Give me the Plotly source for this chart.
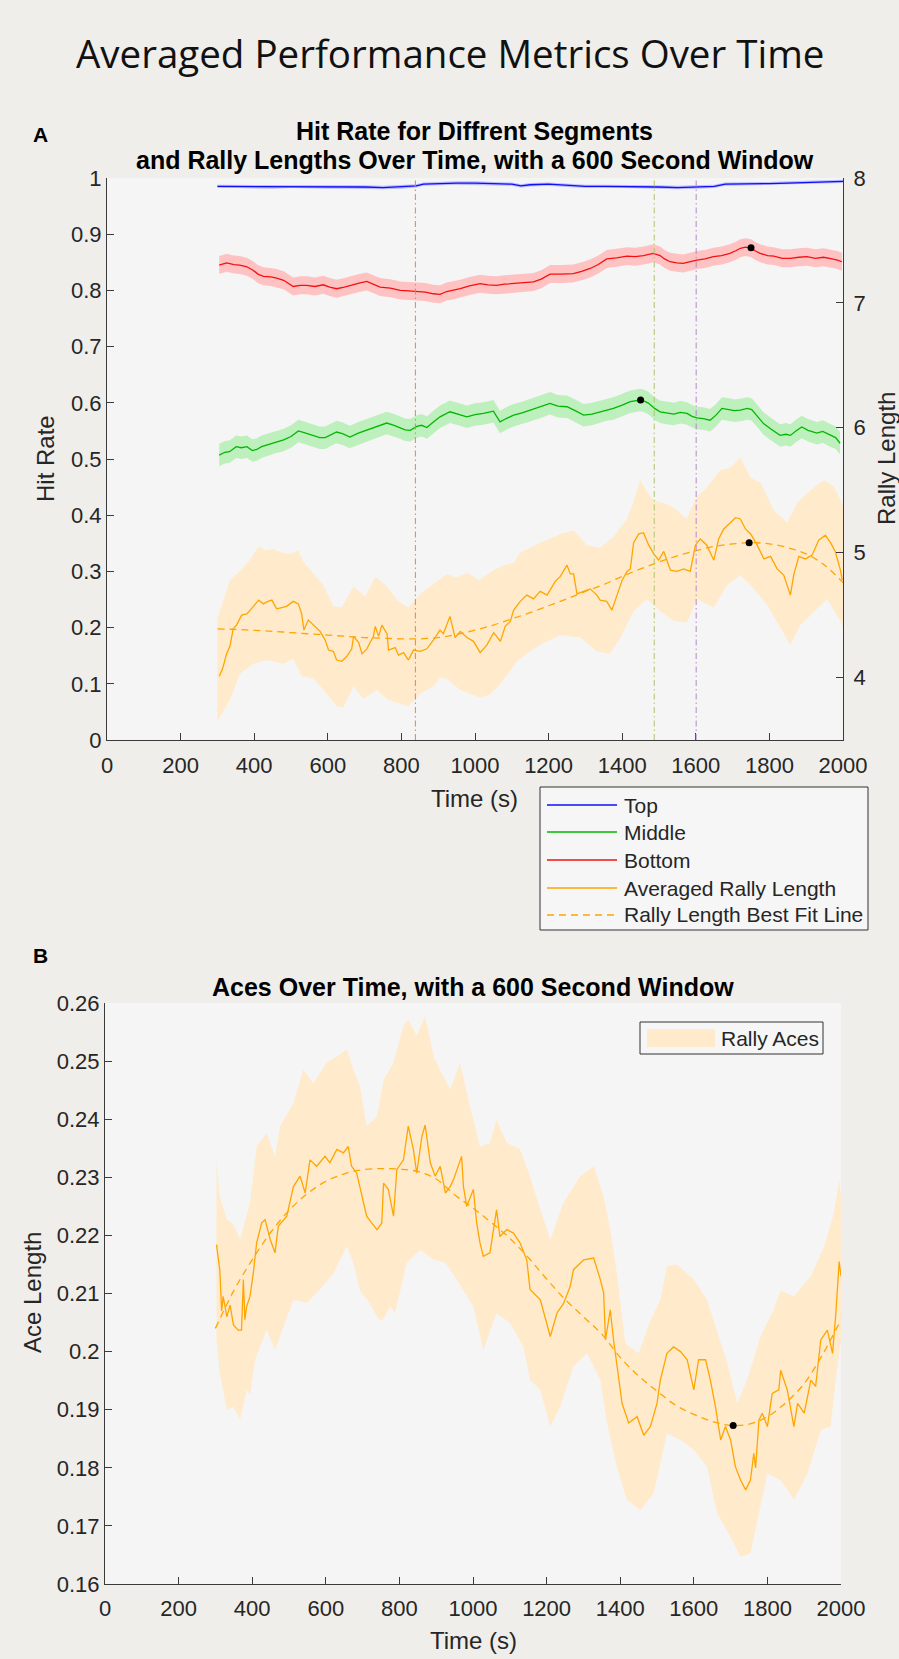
import plotly.graph_objects as go

# ---------------- data ----------------
TIME_TICKS = [0, 200, 400, 600, 800, 1000, 1200, 1400, 1600, 1800, 2000]
HIT_TICKS = [0, 0.1, 0.2, 0.3, 0.4, 0.5, 0.6, 0.7, 0.8, 0.9, 1]
HIT_TICK_TEXT = ["0", "0.1", "0.2", "0.3", "0.4", "0.5", "0.6", "0.7", "0.8", "0.9", "1"]
RALLY_TICKS = [4, 5, 6, 7, 8]
ACE_TICKS = [0.16, 0.17, 0.18, 0.19, 0.20, 0.21, 0.22, 0.23, 0.24, 0.25, 0.26]
ACE_TICK_TEXT = ["0.16", "0.17", "0.18", "0.19", "0.2", "0.21", "0.22", "0.23", "0.24", "0.25", "0.26"]

# Top segment hit rate (time s, value)
TOP = [(300, .985), (350, .985), (400, .985), (450, .984), (500, .985), (550, .985), (600, .984),
       (650, .984), (700, .984), (750, .983), (800, .984), (840, .986), (860, .989), (900, .990),
       (950, .991), (1000, .991), (1050, .990), (1100, .989), (1125, .986), (1150, .988),
       (1200, .989), (1250, .987), (1300, .985), (1350, .985), (1400, .985), (1450, .985),
       (1500, .984), (1550, .983), (1600, .984), (1650, .985), (1680, .989), (1700, .989),
       (1750, .989), (1800, .990), (1850, .991), (1900, .992), (1950, .993), (2000, .994)]
TOP_CI = 0.003

# Bottom segment hit rate
BOTTOM = [(305, .845), (325, .849), (345, .846), (361, .845), (380, .842), (397, .836), (410, .829),
          (425, .825), (445, .824), (461, .822), (480, .818), (506, .807), (525, .809), (543, .809),
          (565, .807), (588, .810), (605, .806), (624, .803), (645, .806), (660, .809), (685, .813),
          (706, .816), (725, .811), (742, .806), (770, .804), (797, .800), (820, .799), (842, .798),
          (865, .797), (887, .794), (905, .793), (923, .798), (940, .800), (960, .803), (985, .808),
          (1014, .812), (1035, .810), (1059, .809), (1080, .811), (1105, .812), (1130, .813),
          (1159, .815), (1180, .820), (1204, .829), (1235, .829), (1267, .830), (1290, .834),
          (1313, .839), (1335, .846), (1358, .856), (1385, .858), (1413, .861), (1435, .860),
          (1458, .862), (1484, .866), (1503, .862), (1515, .856), (1530, .851), (1548, .849),
          (1566, .848), (1585, .851), (1603, .854), (1625, .856), (1648, .860), (1670, .862),
          (1693, .866), (1710, .871), (1721, .875), (1735, .877), (1751, .875), (1762, .870),
          (1775, .866), (1795, .862), (1812, .861), (1835, .857), (1857, .857), (1880, .859),
          (1902, .860), (1925, .857), (1947, .859), (1970, .856), (1985, .854), (1997, .851)]
BOTTOM_CI = 0.016

# Middle segment hit rate
MIDDLE = [(305, .507), (320, .512), (333, .513), (351, .522), (365, .520), (380, .522), (395, .515),
          (407, .517), (420, .522), (434, .525), (455, .530), (480, .534), (500, .540), (520, .550),
          (540, .546), (561, .541), (578, .538), (593, .538), (610, .544), (624, .548), (640, .545),
          (660, .539), (683, .546), (706, .551), (730, .557), (760, .564), (780, .560), (797, .556),
          (810, .552), (824, .551), (842, .558), (855, .560), (869, .556), (887, .566), (905, .575),
          (932, .584), (955, .580), (978, .575), (1000, .579), (1023, .581), (1050, .585),
          (1068, .566), (1085, .572), (1105, .578), (1128, .582), (1150, .587), (1175, .592),
          (1204, .599), (1225, .594), (1250, .593), (1272, .586), (1295, .578), (1318, .580),
          (1340, .584), (1358, .588), (1376, .590), (1400, .596), (1422, .602), (1449, .605),
          (1460, .603), (1472, .599), (1488, .590), (1503, .584), (1520, .582), (1540, .580),
          (1558, .583), (1576, .581), (1590, .576), (1603, .573), (1620, .572), (1639, .569),
          (1655, .578), (1671, .590), (1690, .588), (1705, .586), (1721, .587), (1740, .590),
          (1752, .588), (1768, .576), (1784, .563), (1805, .553), (1829, .542), (1845, .544),
          (1857, .542), (1872, .550), (1888, .557), (1905, .551), (1929, .546), (1945, .549),
          (1965, .542), (1980, .538), (1992, .528)]
MIDDLE_CI = 0.02

# Averaged rally length (right axis)
RALLY = [(305, 4.01), (314, 4.07), (325, 4.19), (334, 4.25), (343, 4.39), (352, 4.42), (366, 4.50),
         (380, 4.51), (398, 4.57), (412, 4.62), (425, 4.59), (437, 4.61), (448, 4.62), (461, 4.55),
         (475, 4.56), (488, 4.57), (506, 4.61), (520, 4.59), (529, 4.51), (535, 4.38), (547, 4.46),
         (561, 4.42), (579, 4.37), (593, 4.30), (602, 4.22), (615, 4.21), (624, 4.14), (638, 4.13),
         (652, 4.17), (665, 4.23), (670, 4.33), (684, 4.28), (693, 4.19), (706, 4.23), (724, 4.33),
         (729, 4.41), (738, 4.33), (747, 4.42), (761, 4.35), (765, 4.22), (783, 4.24), (792, 4.18),
         (806, 4.20), (819, 4.14), (833, 4.22), (851, 4.21), (869, 4.23), (887, 4.30), (905, 4.38),
         (914, 4.35), (932, 4.49), (946, 4.32), (960, 4.37), (978, 4.32), (996, 4.29), (1014, 4.20),
         (1032, 4.26), (1051, 4.36), (1069, 4.29), (1082, 4.41), (1096, 4.45), (1105, 4.54),
         (1123, 4.61), (1141, 4.66), (1159, 4.63), (1177, 4.69), (1196, 4.66), (1218, 4.77),
         (1232, 4.81), (1250, 4.90), (1259, 4.83), (1268, 4.83), (1277, 4.67), (1295, 4.69),
         (1313, 4.71), (1331, 4.66), (1340, 4.62), (1358, 4.61), (1372, 4.54), (1386, 4.66),
         (1400, 4.78), (1413, 4.85), (1422, 4.87), (1431, 5.08), (1445, 5.15), (1458, 5.16),
         (1472, 5.06), (1486, 4.99), (1499, 4.94), (1513, 5.01), (1531, 4.86), (1549, 4.85),
         (1567, 4.87), (1585, 4.85), (1599, 5.06), (1612, 5.11), (1630, 5.06), (1649, 4.94),
         (1662, 5.11), (1676, 5.19), (1694, 5.24), (1708, 5.28), (1721, 5.27), (1735, 5.19),
         (1749, 5.15), (1767, 5.06), (1785, 4.95), (1803, 4.97), (1821, 4.87), (1839, 4.82),
         (1857, 4.66), (1866, 4.82), (1880, 4.97), (1898, 4.95), (1916, 4.98), (1934, 5.10),
         (1952, 5.14), (1966, 5.08), (1979, 5.01), (1993, 4.86), (1998, 4.78)]
RALLY_UPPER = [(300, 4.47), (334, 4.78), (361, 4.85), (390, 4.95), (412, 5.05), (430, 5.02),
               (452, 5.03), (475, 5.00), (497, 4.99), (520, 5.02), (533, 4.93), (561, 4.83),
               (588, 4.74), (615, 4.57), (638, 4.56), (670, 4.73), (702, 4.65), (729, 4.81),
               (761, 4.73), (788, 4.62), (819, 4.56), (851, 4.67), (887, 4.75), (923, 4.83),
               (950, 4.80), (980, 4.84), (1010, 4.78), (1050, 4.86), (1080, 4.90), (1105, 4.92),
               (1123, 5.00), (1150, 5.04), (1177, 5.08), (1210, 5.12), (1232, 5.15), (1268, 5.18),
               (1304, 5.06), (1340, 5.04), (1377, 5.13), (1413, 5.27), (1430, 5.40), (1449, 5.58),
               (1465, 5.50), (1485, 5.42), (1521, 5.39), (1540, 5.36), (1575, 5.27), (1603, 5.45),
               (1630, 5.52), (1666, 5.66), (1694, 5.68), (1721, 5.76), (1749, 5.60), (1776, 5.56),
               (1812, 5.34), (1848, 5.24), (1876, 5.40), (1912, 5.50), (1948, 5.58), (1975, 5.53),
               (1993, 5.42), (2000, 5.38)]
RALLY_LOWER = [(300, 3.65), (334, 3.82), (361, 4.03), (398, 4.11), (434, 4.14), (479, 4.11),
               (506, 4.15), (529, 4.01), (561, 3.99), (597, 3.87), (624, 3.77), (642, 3.76),
               (670, 3.93), (697, 3.83), (733, 3.90), (765, 3.82), (797, 3.79), (819, 3.77),
               (851, 3.87), (887, 3.93), (905, 4.00), (923, 3.99), (960, 3.90), (1014, 3.84),
               (1040, 3.86), (1069, 3.95), (1114, 4.13), (1145, 4.20), (1177, 4.26), (1232, 4.34),
               (1286, 4.32), (1331, 4.21), (1367, 4.19), (1395, 4.32), (1431, 4.53), (1467, 4.63),
               (1504, 4.53), (1540, 4.45), (1576, 4.44), (1603, 4.63), (1649, 4.56), (1685, 4.74),
               (1721, 4.82), (1758, 4.71), (1794, 4.58), (1830, 4.40), (1857, 4.26), (1884, 4.42),
               (1921, 4.53), (1957, 4.63), (1993, 4.45), (2000, 4.40)]
RALLY_FIT = [(300, 4.39), (350, 4.385), (400, 4.378), (450, 4.37), (500, 4.36), (550, 4.35),
             (600, 4.34), (650, 4.33), (700, 4.32), (750, 4.315), (800, 4.31), (850, 4.31),
             (900, 4.32), (950, 4.345), (1000, 4.38), (1050, 4.42), (1100, 4.47), (1150, 4.52),
             (1200, 4.575), (1250, 4.63), (1300, 4.69), (1350, 4.745), (1400, 4.81), (1450, 4.87),
             (1500, 4.925), (1550, 4.975), (1600, 5.015), (1650, 5.05), (1700, 5.07), (1750, 5.08),
             (1800, 5.07), (1850, 5.04), (1900, 4.99), (1950, 4.90), (2000, 4.76)]

# Highlighted points
MARKED_HIT = [(1750, 0.876), (1450, 0.605)]
MARKED_RALLY = [(1745, 5.08)]
EVENT_TIMES = [838, 1487, 1601]

# Aces (panel B)
ACES = [(303, .2184), (312, .2140), (317, .2070), (321, .2095), (331, .2060), (340, .2080),
        (349, .2046), (362, .2037), (371, .2037), (376, .2124), (380, .2055), (385, .2078),
        (394, .2095), (403, .2135), (412, .2187), (426, .2222), (435, .2227), (449, .2193),
        (462, .2170), (471, .2216), (494, .2233), (512, .2284), (530, .2302), (544, .2273),
        (557, .2330), (575, .2319), (598, .2336), (611, .2325), (630, .2348), (648, .2342),
        (661, .2353), (670, .2319), (684, .2307), (698, .2267), (711, .2233), (725, .2221),
        (739, .2210), (752, .2221), (757, .2290), (770, .2279), (784, .2233), (793, .2313),
        (811, .2330), (824, .2388), (838, .2348), (847, .2307), (861, .2370), (870, .2390),
        (884, .2325), (897, .2302), (911, .2319), (925, .2273), (938, .2284), (947, .2296),
        (969, .2336), (974, .2284), (983, .2250), (1001, .2279), (1010, .2221), (1019, .2187),
        (1028, .2164), (1046, .2170), (1064, .2244), (1073, .2198), (1092, .2210), (1110, .2204),
        (1128, .2187), (1146, .2158), (1155, .2107), (1183, .2089), (1210, .2026), (1228, .2066),
        (1246, .2083), (1264, .2112), (1273, .2141), (1301, .2158), (1328, .2161), (1346, .2124),
        (1355, .2101), (1360, .2020), (1373, .2072), (1382, .2020), (1391, .1980), (1405, .1911),
        (1423, .1877), (1446, .1888), (1464, .1856), (1482, .1871), (1500, .1911), (1509, .1951),
        (1527, .1997), (1545, .2008), (1564, .2000), (1582, .1986), (1600, .1934), (1613, .1986),
        (1632, .1986), (1645, .1951), (1659, .1905), (1673, .1848), (1686, .1871), (1700, .1848),
        (1713, .1802), (1727, .1779), (1741, .1762), (1754, .1779), (1763, .1825), (1768, .1800),
        (1777, .1882), (1786, .1894), (1800, .1871), (1813, .1928), (1831, .1934), (1836, .1968),
        (1854, .1934), (1872, .1871), (1882, .1911), (1900, .1894), (1918, .1951), (1931, .1940),
        (1945, .2020), (1963, .2037), (1977, .1997), (1986, .2066), (1995, .2155), (2000, .2130)]
ACES_UPPER = [(303, .2330), (312, .2267), (331, .2227), (349, .2220), (367, .2193), (394, .2256),
              (412, .2353), (439, .2376), (462, .2336), (476, .2388), (512, .2428), (539, .2485),
              (566, .2462), (602, .2497), (630, .2508), (657, .2520), (675, .2485), (693, .2457),
              (711, .2388), (739, .2405), (757, .2468), (784, .2497), (811, .2560), (824, .2571),
              (847, .2543), (870, .2577), (893, .2508), (910, .2485), (938, .2451), (965, .2497),
              (992, .2422), (1019, .2353), (1046, .2359), (1064, .2399), (1092, .2359),
              (1128, .2348), (1155, .2302), (1183, .2244), (1210, .2193), (1246, .2256),
              (1291, .2302), (1328, .2319), (1355, .2267), (1373, .2210), (1391, .2135),
              (1414, .2014), (1450, .1997), (1480, .2050), (1509, .2089), (1527, .2147),
              (1554, .2150), (1600, .2124), (1636, .2089), (1654, .2054), (1691, .1980),
              (1718, .1911), (1745, .1951), (1781, .2026), (1817, .2072), (1836, .2105),
              (1872, .2095), (1918, .2130), (1954, .2181), (1981, .2239), (1995, .2296), (2000, .2267)]
ACES_LOWER = [(303, .2020), (312, .1963), (331, .1900), (349, .1905), (367, .1883), (385, .1934),
              (394, .1925), (408, .1986), (439, .2037), (462, .2003), (485, .2043), (512, .2089),
              (548, .2084), (584, .2107), (621, .2135), (657, .2181), (675, .2153), (693, .2105),
              (720, .2083), (739, .2060), (752, .2052), (775, .2078), (788, .2066), (802, .2106),
              (820, .2153), (856, .2175), (893, .2158), (925, .2153), (960, .2120), (1001, .2077),
              (1028, .2003), (1064, .2066), (1101, .2049), (1137, .2008), (1155, .1951),
              (1183, .1934), (1210, .1871), (1237, .1905), (1273, .1974), (1310, .1997),
              (1346, .1951), (1364, .1877), (1391, .1802), (1418, .1745), (1455, .1727),
              (1491, .1756), (1527, .1859), (1564, .1848), (1600, .1831), (1636, .1802),
              (1663, .1722), (1700, .1681), (1727, .1647), (1754, .1653), (1772, .1710),
              (1800, .1790), (1836, .1779), (1872, .1745), (1909, .1790), (1945, .1865),
              (1972, .1871), (1990, .1974), (2000, .2020)]
ACES_FIT = [(300, .2040), (350, .2105), (400, .2158), (450, .2205), (500, .2243), (550, .2272),
            (600, .2293), (650, .2306), (700, .2313), (750, .2315), (800, .2314), (850, .2310),
            (900, .2297), (950, .2270), (1000, .2247), (1050, .2222), (1100, .2195), (1150, .2162),
            (1200, .2125), (1250, .2090), (1300, .2060), (1350, .2030), (1400, .1990), (1450, .1958),
            (1500, .1932), (1550, .1908), (1600, .1892), (1650, .1880), (1700, .1873), (1750, .1875),
            (1800, .1888), (1850, .1912), (1900, .1945), (1950, .1995), (2000, .2055)]
MARKED_ACE = [(1707, 0.1873)]

LEGEND_A = ["Top", "Middle", "Bottom", "Averaged Rally Length", "Rally Length Best Fit Line"]
LEGEND_B = ["Rally Aces"]

# ---------------- helpers ----------------
W, H = 899, 1659


def px(x):
    return x / W


def py(y):
    return 1 - y / H


def xs(pts):
    return [p[0] for p in pts]


def ys(pts):
    return [p[1] for p in pts]


def band_poly(upper, lower):
    return xs(upper) + xs(lower)[::-1], ys(upper) + ys(lower)[::-1]


BLUE, GREEN, RED, ORANGE = "#1010f5", "#00b800", "#f51010", "#ffa500"
FAMILY = "Liberation Sans, Arial, sans-serif"
TICK_FONT = dict(family=FAMILY, size=22, color="#262626")
LEG_FONT = dict(family=FAMILY, size=21, color="#262626")
AXCOL = "#3a3a3a"

fig = go.Figure()

# ---------- Panel A bands ----------
for pts, ci, col in [(TOP, TOP_CI, "#babaff"), (BOTTOM, BOTTOM_CI, "#ffc2c2"), (MIDDLE, MIDDLE_CI, "#bdf0bd")]:
    up = [(t, v + ci) for t, v in pts]
    lo = [(t, v - ci) for t, v in pts]
    bx, by = band_poly(up, lo)
    fig.add_trace(go.Scatter(x=bx, y=by, fill="toself", fillcolor=col, line=dict(width=0),
                             mode="lines", hoverinfo="skip", showlegend=False, xaxis="x", yaxis="y"))

bx, by = band_poly(RALLY_UPPER, RALLY_LOWER)
fig.add_trace(go.Scatter(x=bx, y=by, fill="toself", fillcolor="#ffebcc", line=dict(width=0),
                         mode="lines", hoverinfo="skip", showlegend=False, xaxis="x", yaxis="y2"))

# ---------- Panel A lines ----------
for pts, col, name in [(TOP, BLUE, "Top"), (MIDDLE, GREEN, "Middle"), (BOTTOM, RED, "Bottom")]:
    fig.add_trace(go.Scatter(x=xs(pts), y=ys(pts), mode="lines", line=dict(color=col, width=1.3),
                             name=name, showlegend=False, xaxis="x", yaxis="y"))
fig.add_trace(go.Scatter(x=xs(RALLY), y=ys(RALLY), mode="lines", line=dict(color=ORANGE, width=1.3),
                         name="Averaged Rally Length", showlegend=False, xaxis="x", yaxis="y2"))
fig.add_trace(go.Scatter(x=xs(RALLY_FIT), y=ys(RALLY_FIT), mode="lines", line_shape="spline",
                         line=dict(color=ORANGE, width=1.3, dash="7px,5px"),
                         name="Rally Length Best Fit Line", showlegend=False, xaxis="x", yaxis="y2"))
fig.add_trace(go.Scatter(x=xs(MARKED_HIT), y=ys(MARKED_HIT), mode="markers",
                         marker=dict(color="black", size=7), showlegend=False, xaxis="x", yaxis="y"))
fig.add_trace(go.Scatter(x=xs(MARKED_RALLY), y=ys(MARKED_RALLY), mode="markers",
                         marker=dict(color="black", size=7), showlegend=False, xaxis="x", yaxis="y2"))

# ---------- Panel B ----------
bx, by = band_poly(ACES_UPPER, ACES_LOWER)
fig.add_trace(go.Scatter(x=bx, y=by, fill="toself", fillcolor="#ffebcc", line=dict(width=0),
                         mode="lines", hoverinfo="skip", showlegend=False, xaxis="x2", yaxis="y3"))
fig.add_trace(go.Scatter(x=xs(ACES), y=ys(ACES), mode="lines", line=dict(color=ORANGE, width=1.3),
                         showlegend=False, xaxis="x2", yaxis="y3"))
fig.add_trace(go.Scatter(x=xs(ACES_FIT), y=ys(ACES_FIT), mode="lines", line_shape="spline",
                         line=dict(color=ORANGE, width=1.3, dash="7px,5px"),
                         showlegend=False, xaxis="x2", yaxis="y3"))
fig.add_trace(go.Scatter(x=xs(MARKED_ACE), y=ys(MARKED_ACE), mode="markers",
                         marker=dict(color="black", size=7), showlegend=False, xaxis="x2", yaxis="y3"))

# ---------- shapes ----------
shapes = []
for t, col in zip(EVENT_TIMES, ["#f7794c", "#aec46c", "#b886cc"]):
    shapes.append(dict(type="line", xref="x", yref="y domain", x0=t, x1=t, y0=0, y1=1,
                       line=dict(color=col, width=1, dash="6px,3px,1.5px,3px"), layer="above"))

# legend A (manual, MATLAB style)
shapes.append(dict(type="rect", xref="paper", yref="paper", x0=px(540), x1=px(868), y0=py(930), y1=py(787),
                   fillcolor="#f6f6f6", line=dict(color="#333333", width=1)))
leg_cols = [BLUE, GREEN, RED, ORANGE, ORANGE]
leg_dash = ["solid", "solid", "solid", "solid", "7px,5px"]
leg_y = [805, 832, 860, 888, 915]
annotations = []
for lab, col, d, yy in zip(LEGEND_A, leg_cols, leg_dash, leg_y):
    shapes.append(dict(type="line", xref="paper", yref="paper", x0=px(547), x1=px(617), y0=py(yy), y1=py(yy),
                       line=dict(color=col, width=1.3, dash=d)))
    annotations.append(dict(text=lab, xref="paper", yref="paper", x=px(622), y=py(yy), xanchor="left",
                            yanchor="middle", showarrow=False, font=LEG_FONT))

# legend B
shapes.append(dict(type="rect", xref="paper", yref="paper", x0=px(640), x1=px(823), y0=py(1054), y1=py(1022),
                   fillcolor="#f6f6f6", line=dict(color="#333333", width=1)))
shapes.append(dict(type="rect", xref="paper", yref="paper", x0=px(647), x1=px(715), y0=py(1047), y1=py(1029),
                   fillcolor="#ffebcc", line=dict(width=0)))
annotations.append(dict(text=LEGEND_B[0], xref="paper", yref="paper", x=px(719), y=py(1038), xanchor="left",
                        yanchor="middle", showarrow=False, font=LEG_FONT))

# ---------- text ----------
def ann(text, x, y, size=24, bold=False, angle=0, family=FAMILY, color="#1a1a1a"):
    annotations.append(dict(text=f"<b>{text}</b>" if bold else text, xref="paper", yref="paper",
                            x=px(x), y=py(y), xanchor="center", yanchor="middle", showarrow=False,
                            textangle=angle, font=dict(family=family, size=size, color=color)))


ann("Averaged Performance Metrics Over Time", 450, 53, size=38.5, family="Open Sans, sans-serif", color="#111111")
ann("A", 40, 134, size=21, bold=True, color="#000000")
ann("Hit Rate for Diffrent Segments", 475, 131, size=25, bold=True, color="#000000")
ann("and Rally Lengths Over Time, with a 600 Second Window", 475, 160, size=25, bold=True, color="#000000")
ann("Hit Rate", 45, 459, angle=-90, color="#262626")
ann("Rally Length", 886, 459, angle=-90, color="#262626")
ann("Time (s)", 475, 798, color="#262626")
ann("B", 40, 955, size=21, bold=True, color="#000000")
ann("Aces Over Time, with a 600 Second Window", 473, 987, size=25, bold=True, color="#000000")
ann("Ace Length", 32, 1293, angle=-90, color="#262626")
ann("Time (s)", 473, 1640, color="#262626")

axis_common = dict(showline=True, linecolor=AXCOL, linewidth=1, ticks="inside", ticklen=7,
                   tickcolor=AXCOL, tickwidth=1, showgrid=False, zeroline=False, tickfont=TICK_FONT,
                   automargin=False)

fig.update_layout(
    width=W, height=H,
    autosize=False,
    margin=dict(l=0, r=0, t=0, b=0, pad=0, autoexpand=False),
    paper_bgcolor="#efeeea",
    plot_bgcolor="#f5f5f5",
    showlegend=False,
    xaxis=dict(domain=[px(107), px(843)], range=[0, 2000], anchor="y", tickvals=TIME_TICKS,
               ticklabelstandoff=6, **axis_common),
    yaxis=dict(domain=[py(740), py(178)], range=[0, 1], anchor="x", tickvals=HIT_TICKS,
               ticktext=HIT_TICK_TEXT, **axis_common),
    yaxis2=dict(range=[3.5, 8], overlaying="y", side="right", anchor="x", tickvals=RALLY_TICKS,
                ticklabelstandoff=5, **axis_common),
    xaxis2=dict(domain=[px(105), px(841)], range=[0, 2000], anchor="y3", tickvals=TIME_TICKS,
                ticklabelstandoff=5, **axis_common),
    yaxis3=dict(domain=[py(1584), py(1003)], range=[0.16, 0.26], anchor="x2", tickvals=ACE_TICKS,
                ticktext=ACE_TICK_TEXT, **axis_common),
    shapes=shapes,
    annotations=annotations,
)

fig.write_html(
    "out.html",
    config={"responsive": False, "displayModeBar": False},
    post_script=("document.body.style.margin='0';document.body.style.padding='0';"
                 "document.documentElement.style.overflow='hidden';document.body.style.overflow='hidden';"),
)
